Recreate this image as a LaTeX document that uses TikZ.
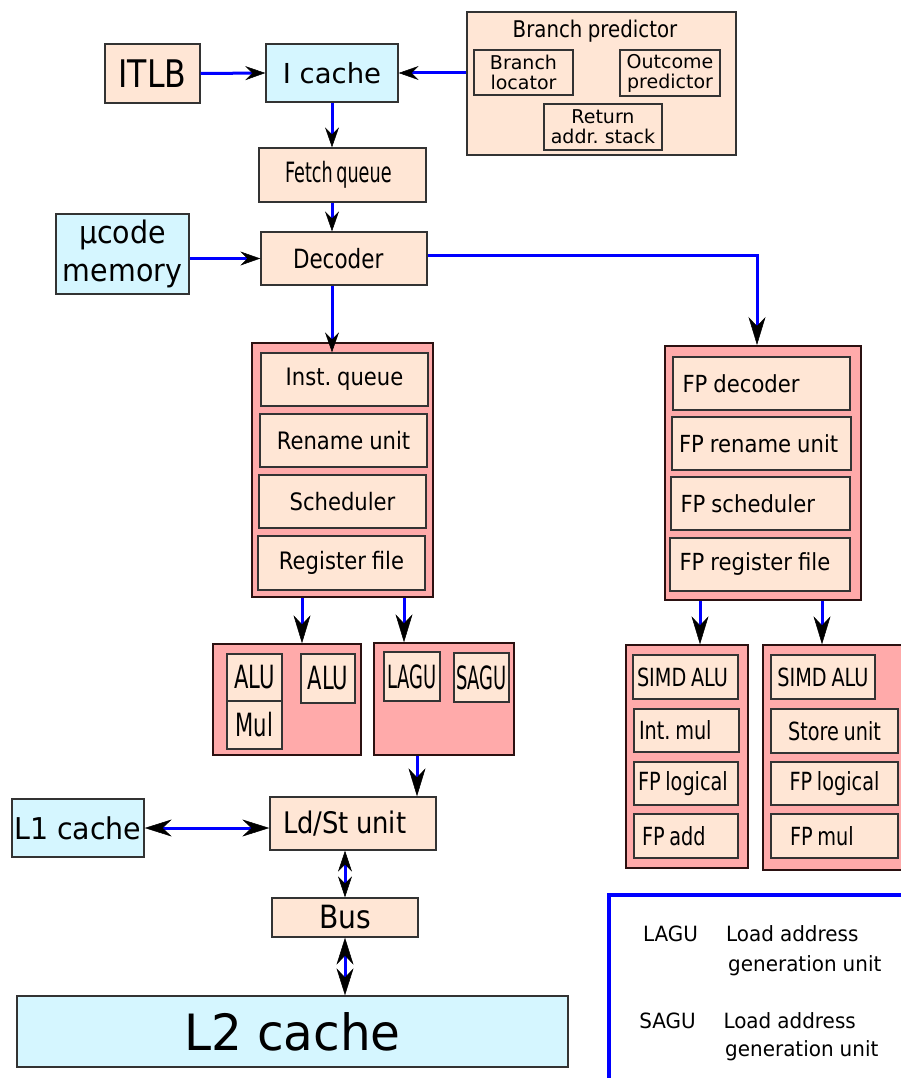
\documentclass[tikz,border=0pt]{standalone}
\usepackage{fontspec}
\setmainfont{DejaVu Sans}
\usetikzlibrary{arrows.meta}
\definecolor{peach}{HTML}{FFE6D5}
\definecolor{icecyan}{HTML}{D5F6FF}
\definecolor{rosepink}{HTML}{FFAAAA}
\definecolor{wireblue}{HTML}{0000FF}
\definecolor{edgegray}{HTML}{333333}
\definecolor{darkedge}{HTML}{2B1111}
\frenchspacing
\def\curstretch{1}
\newcommand{\fnt}[3]{\fontsize{#1}{#2}\selectfont\addfontfeature{FakeStretch=#3}\def\curstretch{#3}}

\begin{document}
\begin{tikzpicture}[x=1pt,y=-1pt,
  every node/.append style={execute at begin node={\spaceskip=\curstretch\fontdimen2\font\relax\xspaceskip=\spaceskip}},
  unit/.style={draw=edgegray,line width=1.4pt,fill=peach,inner sep=0pt},
  mem/.style={draw=edgegray,line width=1.4pt,fill=icecyan,inner sep=0pt},
  cluster/.style={draw=darkedge,line width=2pt,fill=rosepink,inner sep=0pt},
  intunit/.style={unit,minimum width=167pt,minimum height=53pt,font=\fnt{24}{26}{0.88}},
  fpunit/.style={unit,inner xsep=9.5pt,align=left,minimum height=53pt,font=\fnt{23.5}{26}{0.9}},
  exunit/.style={unit,font=\fnt{32}{34}{0.66}},
  agunit/.style={unit,font=\fnt{32}{34}{0.56}},
  simdunit/.style={unit,font=\fnt{25}{27}{0.77}},
  legtext/.style={inner sep=0pt,font=\fnt{21}{23}{0.95}},
  wire/.style={draw=wireblue,line width=3pt},
  midtip/.style={-{Stealth[length=20pt,width=14pt,inset=7pt,line width=0.5pt,black]}},
  bigtip/.style={-{Stealth[length=28pt,width=17pt,inset=9pt,line width=0.5pt,black]}},
  dbltip/.style={{Stealth[length=27pt,width=17pt,inset=9pt,line width=0.5pt,black]}-{Stealth[length=27pt,width=17pt,inset=9pt,line width=0.5pt,black]}},
  shortdbl/.style={{Stealth[length=21pt,width=14pt,inset=7pt,line width=0.5pt,black]}-{Stealth[length=21pt,width=14pt,inset=7pt,line width=0.5pt,black]}}
]
\useasboundingbox (0,0) rectangle (901,1078);
\clip (0,0) rectangle (901,1078);

% front end
\node (itlb) at (152.5,73.5) [unit,minimum width=95pt,minimum height=59pt,font=\fnt{38}{40}{0.83}] {ITLB};
\node (icache) at (332,73) [mem,minimum width=132pt,minimum height=58pt,font=\fnt{27.5}{30}{1}] {I cache};
\node (bp) at (601.5,83.5) [unit,line width=2pt,minimum width=269pt,minimum height=143pt] {};
\node (bptitle) at (595,31) [font=\fnt{23}{25}{0.86}] {Branch predictor};
\node (bloc) at (523.5,72.5) [unit,minimum width=99pt,minimum height=45pt,align=center,font=\fnt{19}{20}{1}] {Branch\\locator};
\node (outc) at (670,73) [unit,minimum width=100pt,minimum height=46pt,align=center,font=\fnt{19}{20}{1}] {Outcome\\predictor};
\node (ras) at (603,127) [unit,minimum width=118pt,minimum height=46pt,align=center,font=\fnt{19}{20}{1}] {Return\\addr. stack};
\node (fetch) at (342.5,175) [unit,inner xsep=26pt,text width=115pt,align=left,minimum height=54pt,font=\fnt{28}{30}{0.63}] {Fetch queue};
\node (ucode) at (122.5,254) [mem,minimum width=133pt,minimum height=80pt,align=center,font=\fnt{31}{38}{0.92}] {µcode\\memory};
\node (decoder) at (344,258.5) [unit,inner xsep=32pt,text width=102pt,align=left,minimum height=53pt,font=\fnt{26.5}{28}{0.81}] {Decoder};

% integer part
\node (intclu) at (342.5,470) [cluster,minimum width=181pt,minimum height=254pt] {};
\node (iq) at (344.5,379.5) [intunit] {Inst. queue};
\node (ren) at (343.5,440.5) [intunit] {Rename unit};
\node (sch) at (342.5,501.5) [intunit] {Scheduler};
\node (reg) at (341.5,563) [intunit,minimum height=54pt] {Register file};

\node (alugrp) at (287,699.5) [cluster,line width=1.4pt,minimum width=148pt,minimum height=111pt] {};
\node (alua) at (254.5,677.5) [exunit,minimum width=55pt,minimum height=47pt] {ALU};
\node (mul) at (254.5,725) [exunit,minimum width=55pt,minimum height=48pt] {Mul};
\node (alub) at (328,678.5) [exunit,minimum width=54pt,minimum height=49pt] {ALU};
\node (agugrp) at (444,699) [cluster,line width=1.4pt,minimum width=140pt,minimum height=112pt] {};
\node (lagu) at (412,676.5) [agunit,minimum width=56pt,minimum height=49pt] {LAGU};
\node (sagu) at (481.5,677.5) [agunit,minimum width=55pt,minimum height=49pt] {SAGU};

% floating point part
\node (fpclu) at (763,473) [cluster,minimum width=196pt,minimum height=254pt] {};
\node (fpdec) at (761.5,383.5) [fpunit,text width=158pt] {FP decoder};
\node (fpren) at (761.5,443.5) [fpunit,inner xsep=7pt,text width=165pt] {FP rename unit};
\node (fpsch) at (760.5,503.5) [fpunit,text width=160pt] {FP scheduler};
\node (fpreg) at (760,564.5) [fpunit,text width=161pt] {FP register file};

\node (simda) at (687,756.5) [cluster,line width=1.4pt,minimum width=122pt,minimum height=223pt] {};
\node (saalu) at (685.5,677) [simdunit,inner xsep=4pt,text width=97pt,align=left,minimum height=44pt] {SIMD ALU};
\node (samul) at (686.5,730.5) [simdunit,inner xsep=5pt,text width=95pt,align=left,minimum height=43pt] {Int. mul};
\node (salog) at (686,783.5) [simdunit,inner xsep=4pt,text width=96pt,align=left,minimum height=43pt] {FP logical};
\node (saadd) at (686,836) [simdunit,inner xsep=8pt,text width=88pt,align=left,minimum height=44pt] {FP add};
\node (simdb) at (833,757.5) [cluster,line width=1.4pt,minimum width=140pt,minimum height=225pt] {};
\node (sbalu) at (823,677) [simdunit,minimum width=104pt,minimum height=44pt] {SIMD ALU};
\node (sbst) at (834.5,731) [simdunit,minimum width=127pt,minimum height=44pt] {Store unit};
\node (sblog) at (834.5,783.5) [simdunit,minimum width=127pt,minimum height=43pt] {FP logical};
\node (sbmul) at (834.5,836) [simdunit,inner xsep=19pt,text width=89pt,align=left,minimum height=44pt] {FP mul};

% memory side
\node (l1) at (78,828) [mem,minimum width=132pt,minimum height=58pt,font=\fnt{30}{32}{0.95}] {L1 cache};
\node (ldst) at (353,823.5) [unit,inner xsep=13pt,text width=140pt,align=left,minimum height=53pt,font=\fnt{29.7}{32}{0.87}] {Ld/St unit};
\node (bus) at (345,917.5) [unit,minimum width=146pt,minimum height=39pt,font=\fnt{32}{34}{0.88}] {Bus};
\node (l2) at (292.5,1031.5) [mem,minimum width=551pt,minimum height=71pt,font=\fnt{50}{52}{0.97}] {L2 cache};

% connectors
\draw[wire,midtip] (itlb.east) -- (icache.west);
\draw[wire,midtip] (bp.west |- icache.east) -- (icache.east);
\draw[wire,midtip] (icache.south) -- (icache.south |- fetch.north);
\draw[wire,midtip] (fetch.south -| icache) -- (decoder.north -| icache);
\draw[wire,midtip] (ucode.east |- decoder.west) -- (decoder.west);
\draw[wire,midtip] (decoder.south -| icache) -- (iq.north -| icache);
\draw[wire,bigtip] ([yshift=3pt]decoder.east) -| ([xshift=-6pt]fpclu.north);
\draw[wire,bigtip] ([xshift=-40.5pt]intclu.south) -- ([xshift=-40.5pt]intclu.south |- alugrp.north);
\draw[wire,bigtip] ([xshift=61.5pt]intclu.south) -- ([xshift=61.5pt]intclu.south |- agugrp.north);
\draw[wire,bigtip] ([xshift=-63pt]fpclu.south) -- ([xshift=-63pt]fpclu.south |- simda.north);
\draw[wire,bigtip] ([xshift=59pt]fpclu.south) -- ([xshift=59pt]fpclu.south |- simdb.north);
\draw[wire,bigtip] ([xshift=-27pt]agugrp.south) -- ([xshift=-27pt]agugrp.south |- ldst.north);
\draw[wire,dbltip] (l1.east) -- (l1.east -| ldst.west);
\draw[wire,shortdbl] (bus.north) -- (bus.north |- ldst.south);
\draw[wire,dbltip] (bus.south) -- (bus.south |- l2.north);

% legend
\coordinate (legcorner) at (609,895);
\draw[wireblue,line width=3.5pt] (legcorner |- 0,1082) -- (legcorner) -- (905,895);
\node (laguabbr) at (670.5,941.7) [legtext,anchor=base] {LAGU};
\node (lagudesca) at (726,941.7) [legtext,anchor=base west] {Load address};
\node (lagudescb) at (728,971.7) [legtext,anchor=base west] {generation unit};
\node (saguabbr) at (667.5,1028) [legtext,anchor=base] {SAGU};
\node (sagudesca) at (723.3,1028) [legtext,anchor=base west] {Load address};
\node (sagudescb) at (725,1056.7) [legtext,anchor=base west] {generation unit};
\end{tikzpicture}
\end{document}
